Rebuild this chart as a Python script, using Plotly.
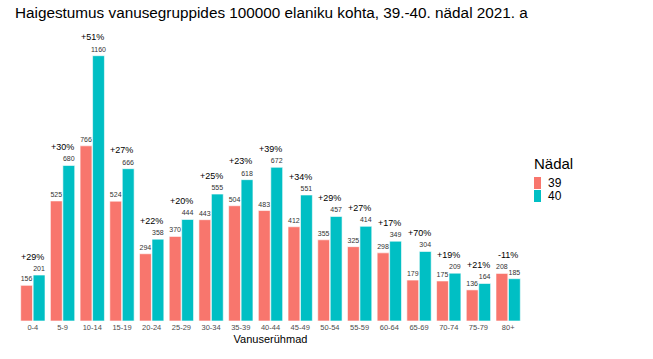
import plotly.graph_objects as go

categories = ["0-4", "5-9", "10-14", "15-19", "20-24", "25-29", "30-34", "35-39",
              "40-44", "45-49", "50-54", "55-59", "60-64", "65-69", "70-74", "75-79", "80+"]
week39 = [156, 525, 766, 524, 294, 370, 443, 504, 483, 412, 355, 325, 298, 179, 175, 136, 208]
week40 = [201, 680, 1160, 666, 358, 444, 555, 618, 672, 551, 457, 414, 349, 304, 209, 164, 185]
change_labels = ["+29%", "+30%", "+51%", "+27%", "+22%", "+20%", "+25%", "+23%", "+39%",
                 "+34%", "+29%", "+27%", "+17%", "+70%", "+19%", "+21%", "-11%"]
series_names = ["39", "40"]
series_colors = ["#F8766D", "#00BFC4"]

W, H = 653, 359
L, R, T, B = 18, 130, 30, 38
PW, PH = W - L - R, H - T - B


def px_x(px):
    return (px - L) / PW


def px_y(py):
    return (H - B - py) / PH


fig = go.Figure()
for name, vals, col in zip(series_names, [week39, week40], series_colors):
    fig.add_trace(go.Bar(x=categories, y=vals, name=name,
                         marker=dict(color=col, line=dict(color="white", width=0.6)),
                         text=[str(v) for v in vals], textposition="outside",
                         constraintext="none", cliponaxis=False,
                         textfont=dict(size=7, color="#333333"), showlegend=False))

for c, a, b, lab in zip(categories, week39, week40, change_labels):
    fig.add_annotation(x=c, y=max(a, b) + 80, text=lab, showarrow=False,
                       font=dict(size=9, color="black"), yanchor="middle")

# legend (drawn manually to mimic ggplot key layout)
fig.add_annotation(x=px_x(532), y=px_y(163), xref="paper", yref="paper", text="Nädal",
                   showarrow=False, xanchor="left", yanchor="middle",
                   font=dict(size=15, color="black"))
sw_top = [177, 190]
for i, (name, col) in enumerate(zip(series_names, series_colors)):
    fig.add_shape(type="rect", xref="paper", yref="paper",
                  x0=px_x(534), x1=px_x(541), y0=px_y(sw_top[i]), y1=px_y(sw_top[i] + 12),
                  fillcolor=col, line=dict(width=0))
    fig.add_annotation(x=px_x(547), y=px_y(sw_top[i] + 6), xref="paper", yref="paper",
                       text=name, showarrow=False, xanchor="left", yanchor="middle",
                       font=dict(size=12, color="black"), borderpad=0)

fig.update_layout(
    width=W, height=H,
    margin=dict(l=L, r=R, t=T, b=B),
    paper_bgcolor="white", plot_bgcolor="white",
    font=dict(family="Liberation Sans, Arial, sans-serif"),
    title=dict(text="Haigestumus vanusegruppides 100000 elaniku kohta, 39.-40. nädal 2021. a",
               x=15 / W, xref="container", xanchor="left",
               y=1 - 13 / H, yref="container", yanchor="middle",
               font=dict(size=15.3, color="black")),
    barmode="group", bargap=0.16, bargroupgap=0.05,
    showlegend=False,
    xaxis=dict(title=dict(text="Vanuserühmad", font=dict(size=11, color="black"), standoff=4),
               tickfont=dict(size=7.5, color="#4D4D4D"), showline=False, ticks="",
               showgrid=False, automargin=False),
    yaxis=dict(range=[0, PH / 0.2287], visible=False, showgrid=False),
)

fig.write_html("out.html", config={"displayModeBar": False},
               post_script="document.body.style.margin='0';")
